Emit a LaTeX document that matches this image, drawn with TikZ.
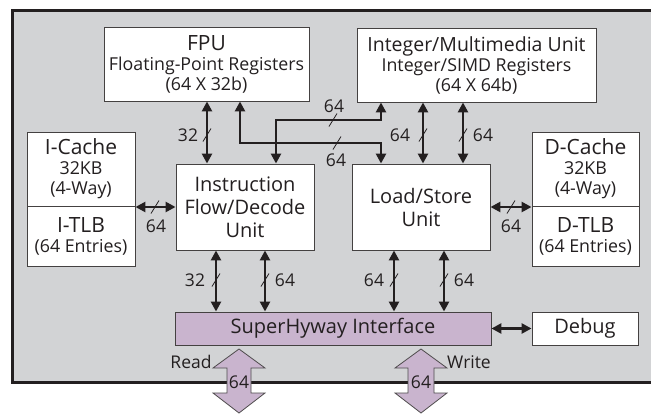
\documentclass[tikz,border=0pt]{standalone}
\usepackage{fontspec}
\setmainfont{Open Sans}
\usetikzlibrary{arrows.meta,calc}
\definecolor{bggray}{RGB}{210,211,213}
\definecolor{hyway}{RGB}{201,180,206}
\definecolor{ink}{RGB}{35,31,32}
\newcommand\ttl{\fontsize{21}{21}\selectfont}
\newcommand\ttlb{\fontsize{19.5}{21}\selectfont}
\begin{document}
\begin{tikzpicture}[x=1pt,y=-1pt,
  box/.style={draw=ink!85, line width=0.9pt, fill=white, inner sep=0pt, align=center, text=ink,
    font=\fontsize{17.8}{20}\selectfont},
  big/.style={font=\fontsize{20}{23}\selectfont},
  link/.style={line width=2.6pt, draw=ink,
    {Triangle[length=10pt,width=10pt]}-{Triangle[length=10pt,width=10pt]}},
  tick/.style={line width=0.8pt, draw=ink},
  lbl/.style={text=ink, font=\fontsize{17.5}{17.5}\selectfont, inner sep=0pt},
  fat/.style={fill=hyway, draw=ink!80, line width=0.8pt, line join=miter},
]
\useasboundingbox (0,0) rectangle (651,418);
\fill[white] (0,0) rectangle (651,418);
\draw[fill=bggray, line width=3pt, draw=ink] (12.5,10.5) rectangle (670,382.5);

% nodes
\node[box, minimum width=205pt, minimum height=74pt] (fpu) at (206.5,64)
  {{\ttl FPU}\\Floating-Point Registers\\(64 X 32b)};
\node[box, minimum width=239pt, minimum height=74pt] (intu) at (476.5,65)
  {{\ttlb Integer/Multimedia Unit}\\Integer/SIMD Registers\\(64 X 64b)};
\node[box, minimum width=108pt, minimum height=74pt] (icache) at (81,169)
  {{\ttl I-Cache}\\32KB\\(4-Way)};
\node[box, minimum width=108pt, minimum height=60pt] (itlb) at (81,236)
  {{\ttl I-TLB}\\(64 Entries)};
\node[box, big, minimum width=138pt, minimum height=86pt] (instr) at (245,207)
  {Instruction\\Flow/Decode\\Unit};
\node[box, big, minimum width=138pt, minimum height=86pt] (ls) at (421,207)
  {Load/Store\\Unit};
\node[box, minimum width=107pt, minimum height=74pt] (dcache) at (585.5,169)
  {{\ttl D-Cache}\\32KB\\(4-Way)};
\node[box, minimum width=107pt, minimum height=60pt] (dtlb) at (585.5,236)
  {{\ttl D-TLB}\\(64 Entries)};
\node[box, big, fill=hyway, minimum width=316pt, minimum height=33pt] (sh) at (333,328.5)
  {SuperHyway Interface};
\node[box, big, minimum width=106pt, minimum height=33pt] (debug) at (585,328.5)
  {Debug};

% connectors
\draw[link] (207,0 |- fpu.south) -- (207,0 |- instr.north);
\draw[link] (240,0 |- fpu.south) |- (381,143) -- (381,0 |- ls.north);
\draw[link] (276,0 |- instr.north) |- (381,120) -- (381,0 |- intu.south);
\draw[link] (423,0 |- intu.south) -- (423,0 |- ls.north);
\draw[link] (463,0 |- intu.south) -- (463,0 |- ls.north);
\draw[link] (instr.west -| icache.east) -- (instr.west);
\draw[link] (ls.east) -- (ls.east -| dcache.west);
\draw[link] (216,0 |- instr.south) -- (216,0 |- sh.north);
\draw[link] (265,0 |- instr.south) -- (265,0 |- sh.north);
\draw[link] (394,0 |- ls.south) -- (394,0 |- sh.north);
\draw[link] (444,0 |- ls.south) -- (444,0 |- sh.north);
\draw[link] (sh.east) -- (debug.west);

% slash marks
\foreach \p in {(207,135),(333,120),(337,143),(423,135),(463,135),(155,207),(511,207),(216,280),(265,280),(394,280),(444,280)}
  \draw[tick] \p ++(-4,6.5) -- ++(8,-13);

% labels
\node[lbl] (l1) at (188,135) {32};
\node[lbl] (l2) at (334,106) {64};
\node[lbl] (l3) at (336,160) {64};
\node[lbl] (l4) at (400,135) {64};
\node[lbl] (l5) at (483,135) {64};
\node[lbl] (l6) at (156,226) {64};
\node[lbl] (l7) at (511,226) {64};
\node[lbl] (l8) at (195,280) {32};
\node[lbl] (l9) at (285,280) {64};
\node[lbl] (l10) at (374,280) {64};
\node[lbl] (l11) at (464,280) {64};

% bus arrows
\coordinate (rd) at (239,349);
\coordinate (wr) at (421,349);
\draw[fat] (rd) -- ++(26,19) -- ++(-14,0) -- ++(0,25) -- ++(14,0) -- ++(-26,20)
  -- ++(-26,-20) -- ++(14,0) -- ++(0,-25) -- ++(-14,0) -- cycle;
\draw[fat] (wr) -- ++(26,19) -- ++(-13,0) -- ++(0,25) -- ++(13,0) -- ++(-26,20)
  -- ++(-26,-20) -- ++(13,0) -- ++(0,-25) -- ++(-13,0) -- cycle;
\node[lbl] (r64) at (239,382) {64};
\node[lbl] (w64) at (421,382) {64};
\node[lbl] (read) at (191,362) {Read};
\node[lbl] (write) at (469,362) {Write};
\end{tikzpicture}
\end{document}
